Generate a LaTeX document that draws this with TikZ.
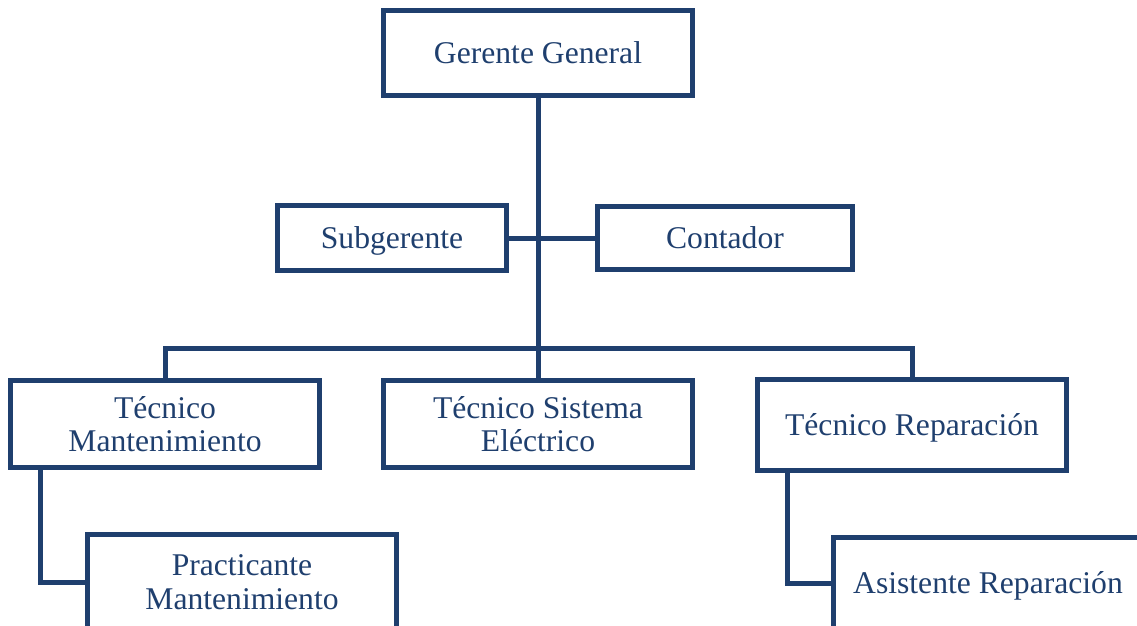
\documentclass[tikz,border=0pt]{standalone}
\usepackage{fontspec}
\setmainfont{Liberation Serif}
\definecolor{orgblue}{RGB}{31,63,110}
\tikzset{
  box/.style={draw=orgblue,line width=0.1cm,text=orgblue,align=center,inner sep=0pt,
    font=\fontsize{18}{19}\selectfont},
  oneline/.style={text height=12pt,text depth=0pt},
  link/.style={draw=orgblue,line width=0.1cm}
}

\begin{document}
\begin{tikzpicture}[x=0.02cm,y=-0.02cm]
    \useasboundingbox (0,0) rectangle (1137,626);
    % Nodes
    \node (gerente) at (538,53) [box,oneline,minimum width=6.2cm,minimum height=1.7cm] {Gerente General};
    \node (subgerente) at (392,238) [box,oneline,minimum width=4.6cm,minimum height=1.32cm] {Subgerente};
    \node (contador) at (725,238) [box,oneline,minimum width=5.1cm,minimum height=1.28cm] {Contador};
    \node (tecmant) at (165,424) [box,minimum width=6.2cm,minimum height=1.76cm] {Técnico\\Mantenimiento};
    \node (tecsis) at (538,424) [box,minimum width=6.2cm,minimum height=1.76cm] {Técnico Sistema\\Eléctrico};
    \node (tecrep) at (912,425) [box,oneline,minimum width=6.2cm,minimum height=1.84cm] {Técnico Reparación};
    \node (practicante) at (242,582) [box,minimum width=6.2cm,minimum height=1.9cm] {Practicante\\Mantenimiento};
    \node (asistente) at (988,583) [box,oneline,minimum width=6.2cm,minimum height=1.84cm] {Asistente Reparación};
    \coordinate (bus) at (538,348);
    % Edges
    \draw[link] (gerente) -- (tecsis);
    \draw[link] (subgerente) -- (contador);
    \draw[link] (tecmant.north) |- (bus) -| (tecrep.north);
    \draw[link] ([xshift=0.66cm]tecmant.south west) |- (practicante.west);
    \draw[link] ([xshift=0.66cm]tecrep.south west) |- (asistente.west);
\end{tikzpicture}
\end{document}
